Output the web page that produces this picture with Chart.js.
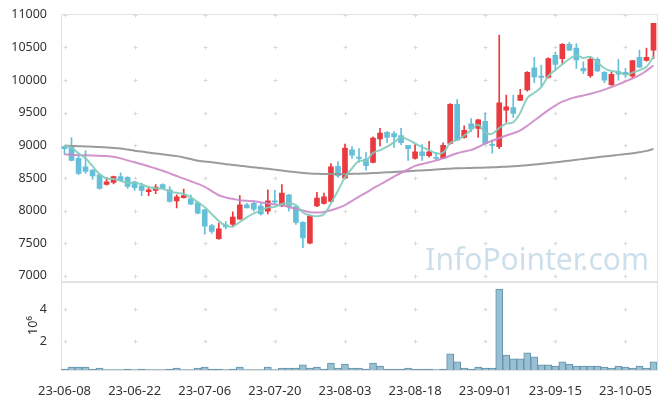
<!DOCTYPE html>
<html lang="pl">
<head>
<meta charset="utf-8">
<title>Notowania</title>
<script src="https://cdn.jsdelivr.net/npm/chart.js@4/dist/chart.umd.min.js"></script>
<style>
  html, body { margin: 0; padding: 0; background: #fff; }
  #wykres-box { width: 665px; height: 399px; }
</style>
</head>
<body>
<div id="wykres-box"><canvas id="wykres"></canvas></div>
<script>
/**
 * Dane notowan.
 */
const daty = [
  "23-06-08", "23-06-09", "23-06-12", "23-06-13", "23-06-14", "23-06-15", "23-06-16", "23-06-19", "23-06-20", "23-06-21",
  "23-06-22", "23-06-23", "23-06-26", "23-06-27", "23-06-28", "23-06-29", "23-06-30", "23-07-03", "23-07-04", "23-07-05",
  "23-07-06", "23-07-07", "23-07-10", "23-07-11", "23-07-12", "23-07-13", "23-07-14", "23-07-17", "23-07-18", "23-07-19",
  "23-07-20", "23-07-21", "23-07-24", "23-07-25", "23-07-26", "23-07-27", "23-07-28", "23-07-31", "23-08-01", "23-08-02",
  "23-08-03", "23-08-04", "23-08-07", "23-08-08", "23-08-09", "23-08-10", "23-08-11", "23-08-14", "23-08-16", "23-08-17",
  "23-08-18", "23-08-21", "23-08-22", "23-08-23", "23-08-24", "23-08-25", "23-08-28", "23-08-29", "23-08-30", "23-08-31",
  "23-09-01", "23-09-04", "23-09-05", "23-09-06", "23-09-07", "23-09-08", "23-09-11", "23-09-12", "23-09-13", "23-09-14",
  "23-09-15", "23-09-18", "23-09-19", "23-09-20", "23-09-21", "23-09-22", "23-09-25", "23-09-26", "23-09-27", "23-10-04",
  "23-10-05", "23-10-06", "23-10-10", "23-10-11", "23-10-12",
];

const otwarcie = [
  8980, 8970, 8800, 8670, 8620, 8550, 8400, 8430, 8520, 8510,
  8440, 8380, 8290, 8310, 8400, 8320, 8150, 8200, 8180, 8120,
  8010, 7770, 7570, 7780, 7790, 7870, 8090, 8110, 8070, 7990,
  8150, 8070, 8240, 8060, 7820, 7500, 8070, 8110, 8140, 8680,
  8500, 8930, 8820, 8790, 8740, 9100, 9200, 9180, 9150, 9000,
  8800, 8900, 8840, 8810, 8800, 9030, 9630, 9120, 9330, 9260,
  9370, 9010, 8980, 9540, 9580, 9690, 9850, 10190, 10060, 10040,
  10380, 10330, 10550, 10490, 10180, 10070, 10320, 10120, 9930, 10130,
  10120, 10060, 10350, 10300, 10460,
];

const maksimum = [
  8980, 9120, 8860, 8920, 8630, 8550, 8510, 8530, 8580, 8520,
  8450, 8420, 8360, 8400, 8410, 8370, 8240, 8330, 8240, 8140,
  8020, 7790, 7810, 7830, 7980, 8230, 8110, 8150, 8110, 8320,
  8310, 8400, 8250, 8060, 7830, 7930, 8280, 8270, 8720, 8750,
  9020, 8980, 8950, 8890, 9130, 9260, 9210, 9210, 9260, 9000,
  9010, 9010, 9060, 8890, 9040, 9640, 9700, 9300, 9410, 9400,
  9500, 9080, 10690, 9770, 9770, 9860, 10130, 10350, 10230, 10340,
  10430, 10560, 10580, 10560, 10280, 10360, 10340, 10130, 10120, 10320,
  10180, 10300, 10460, 10490, 10870,
];

const minimum = [
  8860, 8760, 8550, 8570, 8480, 8330, 8390, 8410, 8450, 8340,
  8310, 8230, 8230, 8260, 8340, 8130, 8040, 8190, 8090, 7950,
  7640, 7650, 7560, 7720, 7750, 7870, 8040, 7990, 7930, 7950,
  8100, 8060, 7990, 7790, 7430, 7490, 8060, 8100, 8130, 8510,
  8500, 8800, 8740, 8620, 8730, 8990, 9040, 8970, 9010, 8770,
  8790, 8770, 8820, 8780, 8800, 9020, 9070, 9110, 9210, 9120,
  9020, 8880, 8950, 9350, 9430, 9690, 9830, 9960, 9910, 10030,
  10160, 10240, 10450, 10180, 10100, 10040, 10130, 9960, 9920, 10000,
  10040, 10030, 10190, 10290, 10330,
];

const zamkniecie = [
  8950, 8770, 8570, 8600, 8530, 8340, 8440, 8520, 8460, 8370,
  8350, 8310, 8320, 8360, 8340, 8140, 8210, 8230, 8100, 7960,
  7760, 7680, 7720, 7750, 7900, 8090, 8040, 8020, 7950, 8150,
  8130, 8270, 8060, 7820, 7580, 7920, 8190, 8210, 8670, 8530,
  8960, 8850, 8800, 8690, 9110, 9190, 9120, 9130, 9040, 8950,
  8900, 8840, 8900, 8800, 9000, 9630, 9080, 9230, 9250, 9390,
  9030, 9000, 9650, 9590, 9490, 9770, 10120, 10050, 10040, 10330,
  10240, 10550, 10460, 10310, 10140, 10320, 10140, 10000, 10090, 10090,
  10090, 10300, 10200, 10350, 10870,
];

// srednie kroczace: 5, 20 i dluga (szara)
const sredniaKrotka = [
  8995, 8964, 8877, 8801, 8681, 8559, 8493, 8483, 8456, 8423,
  8426, 8401, 8361, 8341, 8336, 8293, 8272, 8255, 8204, 8127,
  8051, 7945, 7842, 7770, 7758, 7825, 7897, 7957, 7999, 8049,
  8057, 8102, 8110, 8084, 7970, 7928, 7913, 7943, 8112, 8303,
  8512, 8645, 8762, 8766, 8882, 8927, 8980, 9048, 9119, 9087,
  9029, 8974, 8927, 8878, 8888, 9035, 9083, 9148, 9239, 9317,
  9196, 9180, 9265, 9333, 9353, 9501, 9725, 9805, 9894, 10063,
  10156, 10242, 10324, 10378, 10340, 10356, 10274, 10182, 10139, 10128,
  10083, 10114, 10154, 10206, 10363,
];

const sredniaSrednia = [
  8863, 8855, 8850, 8848, 8845, 8840, 8835, 8826, 8800, 8770,
  8740, 8710, 8680, 8645, 8610, 8570, 8530, 8490, 8450, 8410,
  8365, 8300, 8235, 8200, 8180, 8160, 8150, 8145, 8125, 8110,
  8095, 8080, 8055, 8025, 8000, 7975, 7970, 7980, 8005, 8040,
  8085, 8150, 8215, 8275, 8340, 8400, 8460, 8520, 8580, 8630,
  8685, 8715, 8740, 8770, 8800, 8840, 8880, 8905, 8930, 8975,
  9030, 9070, 9110, 9150, 9185, 9230, 9300, 9380, 9460, 9540,
  9610, 9670, 9710, 9740, 9765, 9790, 9820, 9855, 9895, 9935,
  9980, 10025, 10075, 10145, 10225,
];

const sredniaDluga = [
  8995, 8992, 8988, 8984, 8980, 8975, 8968, 8960, 8950, 8935,
  8918, 8905, 8890, 8875, 8862, 8850, 8835, 8815, 8790, 8765,
  8752, 8740, 8725, 8712, 8700, 8688, 8675, 8665, 8652, 8640,
  8628, 8615, 8600, 8588, 8578, 8570, 8565, 8562, 8560, 8560,
  8560, 8563, 8566, 8570, 8575, 8580, 8586, 8592, 8598, 8604,
  8610, 8616, 8622, 8630, 8637, 8643, 8648, 8651, 8654, 8657,
  8660, 8664, 8668, 8673, 8679, 8686, 8695, 8706, 8717, 8728,
  8740, 8752, 8765, 8778, 8792, 8805, 8818, 8830, 8842, 8854,
  8866, 8879, 8893, 8915, 8944,
];

// wolumen w milionach (10^6)
const wolumen = [
  0.23, 0.36, 0.36, 0.36, 0.23, 0.29, 0.19, 0.19, 0.19, 0.23,
  0.19, 0.23, 0.19, 0.19, 0.19, 0.23, 0.29, 0.19, 0.19, 0.29,
  0.36, 0.23, 0.23, 0.19, 0.23, 0.36, 0.19, 0.19, 0.19, 0.36,
  0.19, 0.29, 0.29, 0.29, 0.49, 0.29, 0.36, 0.23, 0.61, 0.29,
  0.55, 0.29, 0.29, 0.23, 0.61, 0.42, 0.23, 0.23, 0.23, 0.29,
  0.23, 0.23, 0.23, 0.19, 0.23, 1.19, 0.68, 0.29, 0.23, 0.36,
  0.29, 0.29, 5.28, 1.12, 0.87, 0.87, 1.25, 1.00, 0.49, 0.49,
  0.42, 0.68, 0.55, 0.42, 0.42, 0.42, 0.42, 0.36, 0.29, 0.42,
  0.36, 0.29, 0.42, 0.29, 0.68,
];

// podzialki osi
const tickiCeny = [7000, 7500, 8000, 8500, 9000, 9500, 10000, 10500, 11000];
const tickiWolumenu = [2, 4];

const CZERWONY = "#ea3a3f";
const NIEBIESKI = "#66bfd9";

// kolor swiecy: wzrost czerwony, spadek niebieski
const koloryŚwiec = zamkniecie.map((z, i) => (z >= otwarcie[i] ? CZERWONY : NIEBIESKI));

/**
 * Wtyczka rysujaca ramki paneli, krzyzyki siatki i znak wodny.
 */
const ramkaISiatka = {
  id: "ramkaISiatka",
  beforeDatasetsDraw(chart) {
    const ctx = chart.ctx;
    const x = chart.scales.x;
    const panele = [chart.scales.y, chart.scales.yv];
    ctx.save();

    // znak wodny
    ctx.font = "30px 'Noto Sans'";
    ctx.fillStyle = "rgba(170, 202, 220, 0.6)";
    ctx.textAlign = "right";
    ctx.textBaseline = "alphabetic";
    ctx.fillText("InfoPointer.com", x.right - 8, chart.scales.y.bottom - 11);

    // krzyzyki na przecieciach siatki
    ctx.strokeStyle = "#dadada";
    ctx.lineWidth = 1;
    panele.forEach((s) => {
      s.ticks.forEach((t, k) => {
        const py = Math.round(s.getPixelForTick(k)) + 0.5;
        for (let i = 0; i < daty.length; i += 10) {
          const px = Math.round(x.getPixelForValue(i)) + 0.5;
          ctx.beginPath();
          ctx.moveTo(px - 2, py);
          ctx.lineTo(px + 2, py);
          ctx.moveTo(px, py - 2);
          ctx.lineTo(px, py + 2);
          ctx.stroke();
        }
      });
    });

    // ramki paneli
    ctx.strokeStyle = "#e2e2e2";
    panele.forEach((s) => {
      ctx.strokeRect(
        Math.round(x.left) + 0.5,
        Math.round(s.top) + 0.5,
        Math.round(x.right - x.left),
        Math.round(s.bottom - s.top)
      );
    });
    ctx.restore();
  },
};

Chart.defaults.font.family = "'Noto Sans', sans-serif";
Chart.defaults.color = "#333";

const ctx = document.getElementById("wykres");

new Chart(ctx, {
  type: "bar",
  data: {
    labels: daty,
    datasets: [
      {
        type: "line",
        label: "MA5",
        data: sredniaKrotka,
        yAxisID: "y",
        borderColor: "rgba(130, 204, 188, 0.9)",
        borderWidth: 2,
        pointRadius: 0,
        tension: 0.4,
        order: 1,
      },
      {
        type: "line",
        label: "MA20",
        data: sredniaSrednia,
        yAxisID: "y",
        borderColor: "rgba(204, 136, 200, 0.9)",
        borderWidth: 2,
        pointRadius: 0,
        tension: 0.4,
        order: 2,
      },
      {
        type: "line",
        label: "MA dluga",
        data: sredniaDluga,
        yAxisID: "y",
        borderColor: "rgba(150, 150, 150, 0.95)",
        borderWidth: 2,
        pointRadius: 0,
        tension: 0.4,
        order: 3,
      },
      {
        label: "korpus",
        data: otwarcie.map((o, i) => [o, zamkniecie[i]]),
        yAxisID: "y",
        backgroundColor: koloryŚwiec,
        barThickness: 5,
        minBarLength: 1,
        grouped: false,
        order: 4,
      },
      {
        label: "knot",
        data: minimum.map((m, i) => [m, maksimum[i]]),
        yAxisID: "y",
        backgroundColor: koloryŚwiec,
        barThickness: 1,
        grouped: false,
        order: 5,
      },
      {
        label: "wolumen",
        data: wolumen,
        yAxisID: "yv",
        backgroundColor: "rgba(152, 192, 210, 1)",
        borderColor: "rgba(98, 146, 170, 1)",
        borderWidth: 1,
        barPercentage: 1,
        categoryPercentage: 1,
        grouped: false,
        order: 6,
      },
    ],
  },
  options: {
    responsive: true,
    maintainAspectRatio: false,
    animation: false,
    layout: {
      padding: { top: 13, right: 8, left: 0, bottom: 0 },
    },
    plugins: {
      legend: { display: false },
      tooltip: { enabled: false },
    },
    scales: {
      x: {
        type: "category",
        offset: true,
        grid: { display: false },
        border: { display: false },
        ticks: {
          autoSkip: false,
          maxRotation: 0,
          padding: 5,
          font: { size: 13 },
          callback: function (value, index) {
            return index % 10 === 0 ? daty[index] : "";
          },
        },
        afterFit: function (scale) {
          scale.height = 29;
        },
      },
      // panel wolumenu (dolny) - zdefiniowany przed cenami, zeby trafil na dol
      yv: {
        position: "left",
        stack: "panele",
        stackWeight: 89,
        min: 0.17,
        max: 5.79,
        grid: { display: false },
        border: { display: false },
        afterBuildTicks: function (scale) {
          scale.ticks = tickiWolumenu.map((v) => ({ value: v }));
        },
        ticks: {
          padding: 6,
          font: { size: 12.5 },
          callback: (v) => String(v),
        },
        title: {
          display: true,
          text: "10⁶",
          font: { size: 12.5 },
          padding: { top: 26, bottom: 0 },
        },
        afterFit: function (scale) {
          scale.width = 61;
        },
      },
      y: {
        position: "left",
        stack: "panele",
        stackWeight: 268,
        min: 6919,
        max: 11021,
        grid: { display: false },
        border: { display: false },
        afterBuildTicks: function (scale) {
          scale.ticks = tickiCeny.map((v) => ({ value: v }));
        },
        ticks: {
          padding: 6,
          font: { size: 12.5 },
          callback: (v) => String(v),
        },
        afterFit: function (scale) {
          scale.width = 61;
        },
      },
    },
  },
  plugins: [ramkaISiatka],
});
</script>
</body>
</html>
